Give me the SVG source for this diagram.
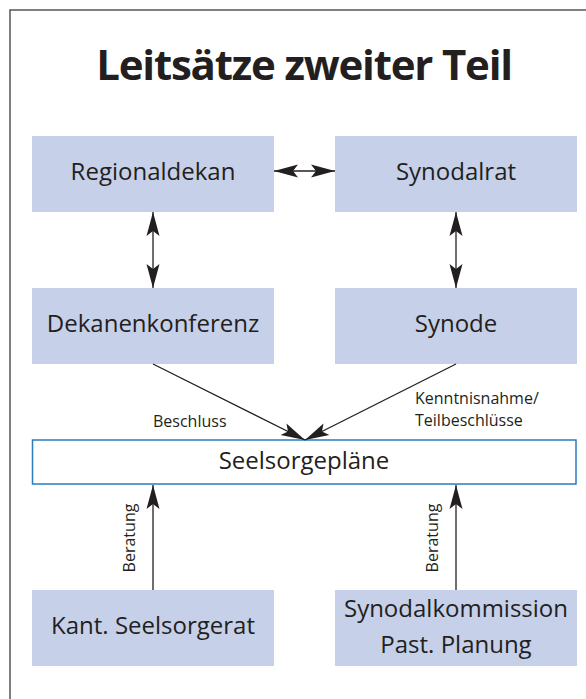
<svg xmlns="http://www.w3.org/2000/svg" width="586" height="699" viewBox="0 0 586 699">
<defs>
<style>
.box{fill:#c6d0e8;}
.lbl{font-family:"Open Sans","Liberation Sans",sans-serif;font-size:24px;fill:#231f20;text-anchor:middle;}
.sm{font-family:"Open Sans","Liberation Sans",sans-serif;font-size:16px;fill:#231f20;}
.title{font-family:"Open Sans","Liberation Sans",sans-serif;font-size:42px;font-weight:bold;letter-spacing:-1.2px;fill:#231f20;text-anchor:middle;}
.ln{stroke:#231f20;stroke-width:1.3;fill:none;}
</style>
<marker id="ah" viewBox="-25 -7 26 14" refX="0" refY="0" markerWidth="26" markerHeight="14" markerUnits="userSpaceOnUse" orient="auto-start-reverse">
<path d="M0,0 L-24,-6.5 L-19,0 L-24,6.5 Z" fill="#231f20"/>
</marker>
</defs>
<rect x="10" y="10" width="600" height="720" fill="#ffffff" stroke="#555555" stroke-width="1.5"/>
<text class="title" x="304" y="80">Leitsätze zweiter Teil</text>
<g id="regionaldekan"><rect class="box" x="32" y="136" width="242" height="76"/><text class="lbl" x="153" y="180">Regionaldekan</text></g>
<g id="synodalrat"><rect class="box" x="335" y="136" width="242" height="76"/><text class="lbl" x="456" y="180">Synodalrat</text></g>
<g id="dekanenkonferenz"><rect class="box" x="32" y="288" width="242" height="76"/><text class="lbl" x="153" y="332">Dekanenkonferenz</text></g>
<g id="synode"><rect class="box" x="335" y="288" width="242" height="76"/><text class="lbl" x="456" y="332">Synode</text></g>
<g id="seelsorgeplaene"><rect x="32.5" y="440" width="543.5" height="44" fill="#ffffff" stroke="#2b7bbd" stroke-width="1.5"/><text class="lbl" x="304" y="468.5">Seelsorgepläne</text></g>
<g id="kant"><rect class="box" x="32" y="590" width="242" height="76"/><text class="lbl" x="153" y="634">Kant. Seelsorgerat</text></g>
<g id="synodalkommission"><rect class="box" x="335" y="590" width="242" height="76"/><text class="lbl" x="456" y="616.5">Synodalkommission</text><text class="lbl" x="456" y="652.5">Past. Planung</text></g>
<g id="connectors">
<line class="ln" x1="274" y1="171" x2="335" y2="171" marker-start="url(#ah)" marker-end="url(#ah)"/>
<line class="ln" x1="153" y1="212" x2="153" y2="288" marker-start="url(#ah)" marker-end="url(#ah)"/>
<line class="ln" x1="456" y1="212" x2="456" y2="288" marker-start="url(#ah)" marker-end="url(#ah)"/>
<line class="ln" x1="153" y1="364" x2="305" y2="440" marker-end="url(#ah)"/>
<line class="ln" x1="456" y1="364" x2="305" y2="440" marker-end="url(#ah)"/>
<line class="ln" x1="153" y1="590" x2="153" y2="485" marker-end="url(#ah)"/>
<line class="ln" x1="456" y1="590" x2="456" y2="485" marker-end="url(#ah)"/>
<text class="sm" x="153" y="426.5">Beschluss</text>
<text class="sm" x="415" y="404">Kenntnisnahme/</text>
<text class="sm" x="415" y="425.5">Teilbeschlüsse</text>
<text class="sm" text-anchor="middle" transform="translate(134.5,538) rotate(-90)">Beratung</text>
<text class="sm" text-anchor="middle" transform="translate(437.5,538) rotate(-90)">Beratung</text>
</g>
</svg>
